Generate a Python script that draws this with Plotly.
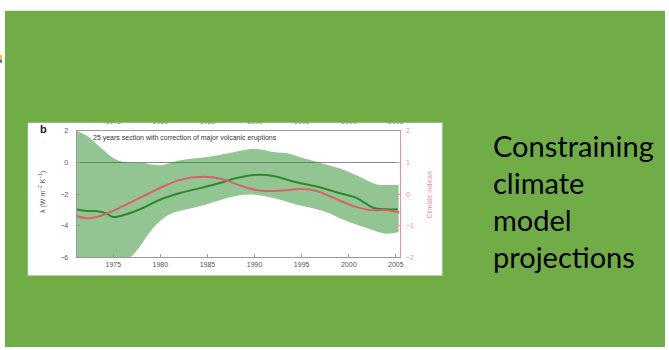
import plotly.graph_objects as go

W, H = 669, 350

# Panel b: 25-year sections with correction of major volcanic eruptions
band_years = [1971.1, 1972.2, 1973.8, 1975.0, 1976.1, 1978.0, 1980.0, 1982.1, 1985.0,
              1987.5, 1990.0, 1992.0, 1993.7, 1994.8, 1996.6, 1999.0, 2001.5, 2002.9, 2005.3]
band_upper = [2.0, 1.7, 0.87, 0.29, 0.04, -0.02, -0.17, 0.14, 0.35,
              0.62, 0.87, 0.66, 0.56, 0.35, 0.04, -0.37, -1.0, -1.37, -1.41]

low_years = [1971.1, 1975.0, 1976.8, 1977.8, 1979.3, 1981.0, 1982.8, 1984.9, 1987.4,
             1989.5, 1992.0, 1994.4, 1997.3, 1999.7, 2002.2, 2004.0, 2005.3]
band_lower = [-7.5, -6.6, -6.0, -5.34, -4.1, -3.27, -2.96, -2.65, -2.2,
              -2.03, -2.24, -2.65, -3.07, -3.69, -4.2, -4.5, -4.41]

lam_years = [1971.1, 1972.2, 1973.2, 1974.3, 1975.0, 1976.4, 1978.2, 1980.0, 1982.1, 1984.2,
             1986.3, 1988.0, 1990.0, 1992.0, 1994.1, 1996.6, 1999.0, 2000.8, 2002.6, 2004.0, 2005.2]
lam_values = [-2.96, -3.07, -3.07, -3.23, -3.45, -3.27, -2.86, -2.34, -1.93, -1.62,
              -1.3, -1.0, -0.79, -0.85, -1.2, -1.52, -1.93, -2.24, -2.86, -2.96, -2.96]

idx_years = [1971.1, 1972.2, 1973.6, 1975.0, 1976.8, 1978.5, 1980.3, 1982.1, 1984.5,
             1986.5, 1988.2, 1989.6, 1991.0, 1992.7, 1995.0, 1996.6, 1998.4, 2000.5, 2002.2,
             2004.0, 2005.4]
idx_values = [-0.69, -0.76, -0.69, -0.53, -0.27, -0.02, 0.24, 0.45, 0.55,
              0.48, 0.3, 0.17, 0.1, 0.11, 0.16, 0.1, -0.12, -0.38, -0.5,
              -0.51, -0.58]

year_ticks = [1975, 1980, 1985, 1990, 1995, 2000, 2005]
lam_ticks = [-6, -4, -2, 0, 2]
idx_ticks = [-2, -1, 0, 1, 2]

slide_lines = ["Constraining", "climate", "model", "projections"]

PINK = "#f28ba3"
AXGRAY = "#9a9a9a"
TXT = "#555555"
SLIDE_GREEN = "#70ad47"


def px(x):
    return x / W


def py(y):
    return 1 - y / H


def minus(v):
    return str(v).replace("-", "\u2212")


fig = go.Figure()

fig.add_trace(go.Scatter(x=low_years, y=band_lower, mode="lines", line=dict(width=0, shape="spline"),
                         hoverinfo="skip", showlegend=False))
fig.add_trace(go.Scatter(x=band_years, y=band_upper, mode="lines", line=dict(width=0, shape="spline"),
                         fill="tonextx", fillcolor="rgba(40,140,40,0.5)", hoverinfo="skip",
                         showlegend=False))
fig.add_trace(go.Scatter(x=lam_years, y=lam_values, mode="lines",
                         line=dict(color="#2c8a2c", width=2, shape="spline"), showlegend=False))
fig.add_trace(go.Scatter(x=idx_years, y=idx_values, mode="lines", yaxis="y2",
                         line=dict(color="#d9616a", width=2, shape="spline"), showlegend=False))
# carries the top year axis
fig.add_trace(go.Scatter(x=[year_ticks[0]], y=[None], xaxis="x2", mode="lines", showlegend=False))

xdom = [px(77), px(402)]
ydom = [py(258.5), py(129.5)]
tickfont = dict(family="Liberation Sans", size=7, color=TXT)

fig.update_layout(
    width=W, height=H,
    margin=dict(l=0, r=0, t=0, b=0),
    paper_bgcolor="white",
    plot_bgcolor="rgba(0,0,0,0)",
    xaxis=dict(domain=xdom, range=[1971.1, 2005.4], tickvals=year_ticks,
               ticks="inside", ticklen=3, tickcolor=AXGRAY, showline=True, linecolor=AXGRAY,
               linewidth=1, mirror=True, showgrid=False, zeroline=False, tickfont=tickfont),
    xaxis2=dict(domain=xdom, range=[1971.1, 2005.4], overlaying="x", side="top", anchor="y",
                tickvals=year_ticks, ticks="", showline=False, showgrid=False, zeroline=False,
                tickfont=dict(family="Liberation Sans", size=7, color="#888"), ticklabelstandoff=5),
    yaxis=dict(domain=ydom, range=[-6, 2], tickvals=lam_ticks,
               ticktext=[minus(v) for v in lam_ticks], ticks="inside", ticklen=3,
               tickcolor=AXGRAY, showline=True, linecolor=AXGRAY, linewidth=1,
               showgrid=False, zeroline=True, zerolinecolor="#8a8a8a", zerolinewidth=1,
               tickfont=tickfont, ticklabelstandoff=6),
    yaxis2=dict(domain=ydom, range=[-2, 2], overlaying="y", side="right", anchor="x",
                tickvals=idx_ticks, ticktext=[minus(v) for v in idx_ticks], ticks="inside",
                ticklen=4, tickcolor=PINK, showline=True, linecolor=PINK, linewidth=1,
                showgrid=False, zeroline=False,
                tickfont=dict(family="Liberation Sans", size=7, color=PINK), ticklabelstandoff=4),
    shapes=[
        # slide background
        dict(type="rect", xref="paper", yref="paper", x0=px(5), x1=1, y0=0, y1=py(7),
             fillcolor=SLIDE_GREEN, line=dict(width=0), layer="below"),
        dict(type="rect", xref="paper", yref="paper", x0=0, x1=px(2), y0=py(57), y1=py(52),
             fillcolor="#f4c542", line=dict(width=0), layer="below"),
        dict(type="rect", xref="paper", yref="paper", x0=0, x1=px(2), y0=py(60), y1=py(57),
             fillcolor="#4472c4", line=dict(width=0), layer="below"),
        # white figure panel
        dict(type="rect", xref="paper", yref="paper", x0=px(28), x1=px(445), y0=py(277), y1=py(121),
             fillcolor="white", line=dict(width=0), layer="below"),
        # panel edge trimming the upper year labels
        dict(type="rect", xref="paper", yref="paper", x0=px(28), x1=px(445), y0=py(121), y1=py(100),
             fillcolor=SLIDE_GREEN, line=dict(width=0), layer="above"),
    ],
)

annotations = [
    dict(text="<b>b</b>", x=px(44), y=py(128), font=dict(family="Liberation Sans", size=11, color="#222")),
    dict(text="25 years section with correction of major volcanic eruptions", x=px(92), y=py(137),
         xanchor="left", font=dict(family="Liberation Sans", size=7, color="#333")),
    dict(text="\u03bb (W m<sup>\u22122</sup> K<sup>\u22121</sup>)", x=px(42), y=py(192), textangle=-90,
         font=dict(family="Liberation Sans", size=7, color=TXT)),
    dict(text="Climate indices", x=px(432), y=py(194), textangle=-90,
         font=dict(family="Liberation Sans", size=7, color=PINK)),
]
for i, line in enumerate(slide_lines):
    annotations.append(dict(text=line, x=px(494), y=py(144 + 38 * i), xanchor="left",
                            font=dict(family="Lato", size=29, color="black")))
for a in annotations:
    a.setdefault("xref", "paper")
    a.setdefault("yref", "paper")
    a.setdefault("showarrow", False)
    a.setdefault("yanchor", "middle")
    a.setdefault("xanchor", "center")
fig.update_layout(annotations=annotations)

fig.write_html("out.html")
